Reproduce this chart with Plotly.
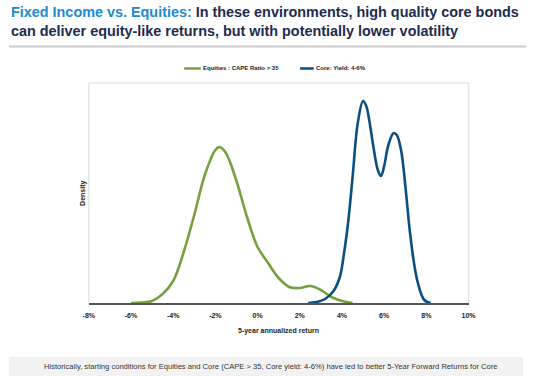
import plotly.graph_objects as go

W, H = 534, 376

# ---- data (5-year annualized return in %, density in arbitrary units) ----
eq_x = [-6.0, -5.5, -5.0, -4.5, -4.0, -3.5, -3.0, -2.5, -2.0, -1.8, -1.5, -1.0, -0.5,
        0.0, 0.5, 1.0, 1.5, 2.0, 2.5, 3.0, 3.5, 4.0, 4.5]
eq_y = [0, 0.5, 2, 9, 22, 51, 88, 128, 153, 156, 150, 122, 86,
        56, 40, 25, 16, 15, 17, 13, 6, 2, 0]

core_x = [2.4, 2.8, 3.2, 3.6, 3.9, 4.1, 4.3, 4.5, 4.75, 5.0, 5.15, 5.3, 5.5, 5.7, 5.85,
          6.0, 6.2, 6.45, 6.6, 6.8, 7.0, 7.2, 7.4, 7.6, 7.9, 8.2]
core_y = [0, 1, 4, 12, 26, 50, 82, 125, 180, 202, 197, 182, 155, 133, 127,
          137, 158, 170, 168, 153, 118, 75, 42, 20, 3, 0]

tick_vals = [-8, -6, -4, -2, 0, 2, 4, 6, 8, 10]
tick_text = ["-8%", "-6%", "-4%", "-2%", "0%", "2%", "4%", "6%", "8%", "10%"]

eq_name = "Equities : CAPE Ratio > 35"
core_name = "Core: Yield: 4-6%"
title_lead = "Fixed Income vs. Equities:"
title_rest1 = " In these environments, high quality core bonds"
title_line2 = "can deliver equity-like returns, but with potentially lower volatility"
x_title = "5-year annualized return"
y_title = "Density"
footnote = ("Historically, starting conditions for Equities and Core (CAPE > 35, Core yield: 4-6%) "
            "have led to better 5-Year Forward Returns for Core")

GREEN = "#77a043"
BLUE = "#0b4f82"
FONT = "Liberation Sans, Arial, sans-serif"

# plot-area pixel box
PL, PR, PT, PB = 85, 475, 83, 303

def px(x):
    return x / W

def py(y):
    return 1 - y / H

fig = go.Figure()
fig.add_trace(go.Scatter(x=eq_x, y=eq_y, mode="lines", name=eq_name,
                         line=dict(color=GREEN, width=2.6, shape="spline", smoothing=1.0),
                         showlegend=False))
fig.add_trace(go.Scatter(x=core_x, y=core_y, mode="lines", name=core_name,
                         line=dict(color=BLUE, width=2.6, shape="spline", smoothing=1.0),
                         showlegend=False))

fig.update_layout(
    width=W, height=H, autosize=False,
    margin=dict(l=0, r=0, t=0, b=0),
    paper_bgcolor="white", plot_bgcolor="white",
    font=dict(family=FONT, color="#222222"),
    xaxis=dict(domain=[px(PL), px(PR)], range=[-8, 10], tickvals=tick_vals, ticktext=tick_text,
               showgrid=False, zeroline=False, showline=True, linecolor="#555555", linewidth=1.5,
               ticks="", ticklabelstandoff=5,
               tickfont=dict(size=7, color="#222222", weight="bold"),
               mirror=False, fixedrange=True),
    yaxis=dict(domain=[py(PB), py(PT)], range=[0, 220], showticklabels=False, showgrid=False,
               zeroline=False, showline=False, ticks="", fixedrange=True),
)

# light grey frame (left, top, right)
frame = dict(type="line", xref="paper", yref="paper", line=dict(color="#e6e6e6", width=1.5), layer="below")
fig.add_shape(**frame, x0=px(PL), x1=px(PL), y0=py(PB), y1=py(PT))
fig.add_shape(**frame, x0=px(PL), x1=px(PR), y0=py(PT), y1=py(PT))
fig.add_shape(**frame, x0=px(PR), x1=px(PR), y0=py(PB), y1=py(PT))

# axis titles
fig.add_annotation(x=px(280), y=py(331), xref="paper", yref="paper", text=x_title,
                   showarrow=False, font=dict(size=7, color="#222222", weight="bold"),
                   xanchor="center", yanchor="middle")
fig.add_annotation(x=px(79), y=py(193), xref="paper", yref="paper", text=y_title, textangle=-90,
                   showarrow=False, font=dict(size=7, color="#222222", weight="bold"),
                   xanchor="center", yanchor="middle")

# title
fig.add_annotation(x=px(3), y=py(2), xref="paper", yref="paper", xanchor="left", yanchor="top",
                   align="left", showarrow=False,
                   text=(f"<span style='color:#2289cf'>{title_lead}</span>"
                         f"<span style='color:#1d2b4f'>{title_rest1}</span><br>"
                         f"<span style='color:#1d2b4f'>{title_line2}</span>"),
                   font=dict(size=14.4, family=FONT, weight="bold"))
# rule under title
fig.add_shape(type="line", xref="paper", yref="paper", x0=px(3), x1=1, y0=py(46.5), y1=py(46.5),
              line=dict(color="#cccccc", width=2))

# custom legend
LY = 68.5
fig.add_shape(type="line", xref="paper", yref="paper", x0=px(183), x1=px(200), y0=py(LY), y1=py(LY),
              line=dict(color=GREEN, width=2.5))
fig.add_annotation(x=px(200.5), y=py(LY), xref="paper", yref="paper", xanchor="left", yanchor="middle",
                   text=eq_name, showarrow=False, font=dict(size=6, color="#222222", weight="bold"))
fig.add_shape(type="line", xref="paper", yref="paper", x0=px(302), x1=px(316), y0=py(LY), y1=py(LY),
              line=dict(color=BLUE, width=2.5))
fig.add_annotation(x=px(316.5), y=py(LY), xref="paper", yref="paper", xanchor="left", yanchor="middle",
                   text=core_name, showarrow=False, font=dict(size=6, color="#222222", weight="bold"))

# footnote band
fig.add_shape(type="rect", xref="paper", yref="paper", x0=px(3), x1=px(531), y0=py(357), y1=py(376),
              fillcolor="#f2f2f2", line=dict(width=0), layer="below")
fig.add_annotation(x=px(272), y=py(366), xref="paper", yref="paper", xanchor="center", yanchor="middle",
                   text=footnote, showarrow=False, font=dict(size=7.6, color="#333333"))

fig.write_html(
    "out.html",
    config={"displayModeBar": False, "responsive": False},
    post_script="document.body.style.margin='0';document.body.style.overflow='hidden';",
)
